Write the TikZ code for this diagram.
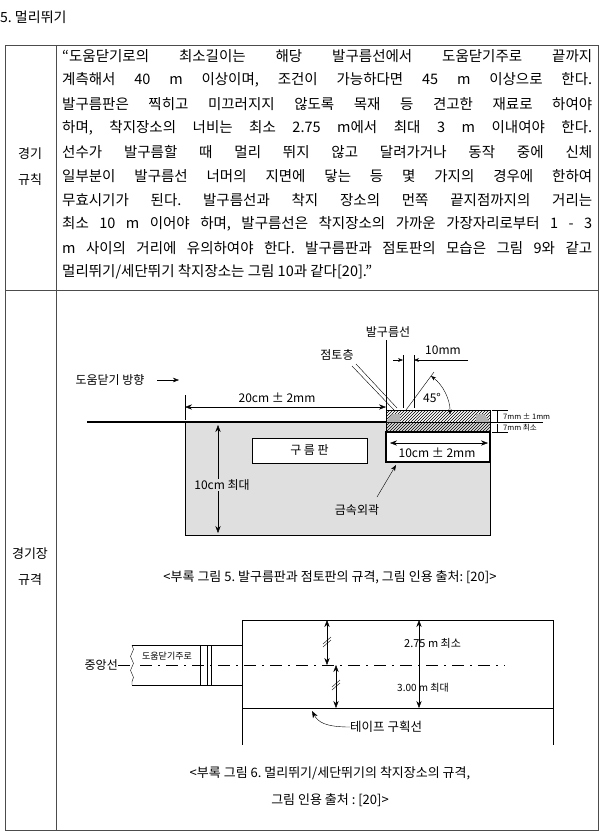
\documentclass[tikz,border=0pt]{standalone}
\usepackage{fontspec}
\setmainfont{Noto Sans CJK KR}
\usetikzlibrary{arrows.meta,patterns,decorations.pathmorphing}
\newcommand{\jline}[1]{\makebox[530pt][s]{#1}}
\begin{document}
\frenchspacing
\begin{tikzpicture}[x=1pt,y=-1pt,
  body/.style={anchor=west,inner sep=0,font=\fontsize{14.5}{15}\selectfont},
  lab/.style={inner sep=0,font=\fontsize{12}{13}\selectfont},
  tiny/.style={inner sep=0,font=\fontsize{7.5}{8}\selectfont},
  dim/.style={{Stealth[length=7pt]}-{Stealth[length=7pt]},thin},
  frame/.style={line width=0.8pt,gray!60!black}]
\useasboundingbox (0,0) rectangle (606,839);
\node[anchor=west,inner sep=0,font=\fontsize{14}{15}\selectfont] (title) at (0,17) {5. 멀리뛰기};
% table
\draw[frame] (5,45) rectangle (598,830);
\draw[frame] (56,45) -- (56,830);
\draw[frame] (5,290) -- (598,290);
\node[body,anchor=center,align=center,font=\fontsize{13}{26}\selectfont] (r1) at (30,167) {경기\\규칙};
\node[body,anchor=center,align=center,font=\fontsize{13}{26}\selectfont] (r2) at (30,567) {경기장\\규격};
\node[body] (l1) at (62,56) {\jline{“도움닫기로의 최소길이는 해당 발구름선에서 도움닫기주로 끝까지}};
\node[body] (l2) at (62,80) {\jline{계측해서 40 m 이상이며, 조건이 가능하다면 45 m 이상으로 한다.}};
\node[body] (l3) at (62,104) {\jline{발구름판은 찍히고 미끄러지지 않도록 목재 등 견고한 재료로 하여야}};
\node[body] (l4) at (62,128) {\jline{하며, 착지장소의 너비는 최소 2.75 m에서 최대 3 m 이내여야 한다.}};
\node[body] (l5) at (62,152) {\jline{선수가 발구름할 때 멀리 뛰지 않고 달려가거나 동작 중에 신체}};
\node[body] (l6) at (62,176) {\jline{일부분이 발구름선 너머의 지면에 닿는 등 몇 가지의 경우에 한하여}};
\node[body] (l7) at (62,200) {\jline{무효시기가 된다. 발구름선과 착지 장소의 먼쪽 끝지점까지의 거리는}};
\node[body] (l8) at (62,224) {\jline{최소 10 m 이어야 하며, 발구름선은 착지장소의 가까운 가장자리로부터 1 - 3}};
\node[body] (l9) at (62,248) {\jline{m 사이의 거리에 유의하여야 한다. 발구름판과 점토판의 모습은 그림 9와 같고}};
\node[body] (l10) at (62,272) {멀리뛰기/세단뛰기 착지장소는 그림 10과 같다[20].”};
% ---- figure 1
\fill[gray!25] (185,422) rectangle (490,535);
\draw[thin] (185,422) rectangle (490,535);
\draw[line width=1.2pt] (87,422) -- (386,422);
\draw[line width=0.8pt] (490,422) -- (543,422);
\draw[pattern=north east lines] (386,410) rectangle (490,432);
\fill[gray!60] (386,422) -- (392,414) -- (400,414) -- (400,422) -- cycle;
\fill[gray!60] (490,422) -- (484,414) -- (476,414) -- (476,422) -- cycle;
\draw[line width=1.5pt,fill=white] (386,432) rectangle (490,462);
\node[draw,fill=white,minimum width=115pt,minimum height=25pt,lab] (board) at (309.5,450.5) {구 름 판};
\node[lab] (dir) at (110,380) {도움닫기 방향};
\coordinate (dirA) at (157,380);
\draw[-{Stealth[length=6pt]}] (dirA) -- ++(22,0);
\coordinate (p20a) at (185,407); \coordinate (p20b) at (386,407);
\draw (185,395) -- (185,420);
\draw[dim] (p20a) -- (p20b);
\node[lab] (t20) at (277,398) {20cm ± 2mm};
\coordinate (v10a) at (218,425); \coordinate (v10b) at (218,533);
\draw[dim] (v10a) -- (v10b);
\node[lab,fill=gray!25,inner sep=1pt] (t10) at (222,485) {10cm 최대};
\node[lab] (foul) at (388,332) {발구름선};
\draw (386,340) -- (386,422);
\draw (403,355) -- (403,408);
\draw (414,355) -- (414,408);
\coordinate (m1) at (393,360); \coordinate (m2) at (468,360);
\draw[-{Stealth[length=5pt]}] (m1) -- (403,360);
\draw[-{Stealth[length=5pt]}] (m2) -- (414,360);
\node[lab] (t10mm) at (443,350) {10mm};
\node[lab] (clay) at (337,355) {점토층};
\draw (352,366) -- (394,410);
\draw (356,364) -- (397,408);
\coordinate (g0) at (406,410); \coordinate (g1) at (434,372);
\draw (g0) -- (g1);
\draw[{Stealth[length=5pt]}-{Stealth[length=5pt]}] (431,376) arc[start angle=-53,end angle=0,radius=48];
\node[lab] (t45) at (432,398) {45°};
\draw (492,410) -- (508,410); \draw (492,432) -- (508,432);
\draw (497,410) -- (497,422); \draw (497,424) -- (497,432);
\node[tiny,anchor=west] (t7a) at (503,416) {7mm ± 1mm};
\node[tiny,anchor=west] (t7b) at (503,428) {7mm 최소};
\coordinate (w1) at (390,443); \coordinate (w2) at (488,443);
\draw[dim] (w1) -- (w2);
\node[lab] (tw) at (437,453) {10cm ± 2mm};
\node[lab] (metal) at (357,510) {금속외곽};
\draw[-{Stealth[length=6pt]}] (377,497) -- (396,465);
\node[body,anchor=center,font=\fontsize{13}{14}\selectfont] (cap1) at (330,577) {<부록 그림 5. 발구름판과 점토판의 규격, 그림 인용 출처: [20]>};
% ---- figure 2
\draw (242,620) rectangle (553,708);
\draw (242,708) -- (242,745); \draw (553,708) -- (553,745);
\draw (242,645) -- (132,645);
\draw (242,685) -- (132,685);
\draw[decorate,decoration={snake,amplitude=1.5pt,segment length=14pt}] (132,645) -- (132,685);
\draw (200,645) -- (200,685); \draw (207,645) -- (207,685); \draw (211,645) -- (211,685);
\node[tiny,fill=white,font=\fontsize{9}{10}\selectfont] (runway) at (167,656) {도움닫기주로};
\node[lab,anchor=east] (cl) at (118,665) {중앙선};
\draw (118,665) -- (130,665);
\draw[dash pattern=on 12pt off 6pt on 2pt off 6pt] (140,665) -- (505,665);
\coordinate (a1) at (327,620); \coordinate (a2) at (327,665);
\draw[dim] (a1) -- (a2);
\draw (323,647) -- (331,640); \draw (323,644) -- (331,637);
\coordinate (b1) at (336,665); \coordinate (b2) at (336,708);
\draw[dim] (b1) -- (b2);
\draw (332,690) -- (340,683); \draw (332,687) -- (340,680);
\coordinate (c1) at (419,620); \coordinate (c2) at (419,708);
\draw[dim] (c1) -- (c2);
\node[lab,anchor=west,font=\fontsize{11}{12}\selectfont] (t275) at (404,643) {2.75 m 최소};
\node[lab,anchor=west,font=\fontsize{10}{12}\selectfont] (t300) at (397,688) {3.00 m 최대};
\node[lab,anchor=west,font=\fontsize{12.5}{13}\selectfont] (tape) at (350,727) {테이프 구획선};
\draw[-{Stealth[length=7pt]}] (tape.west) .. controls (325,727) and (318,722) .. (312,711);
\node[body,anchor=center,align=center,font=\fontsize{13}{27}\selectfont] (cap2) at (330,787) {<부록 그림 6. 멀리뛰기/세단뛰기의 착지장소의 규격,\\그림 인용 출처 : [20]>};
\end{tikzpicture}
\end{document}
